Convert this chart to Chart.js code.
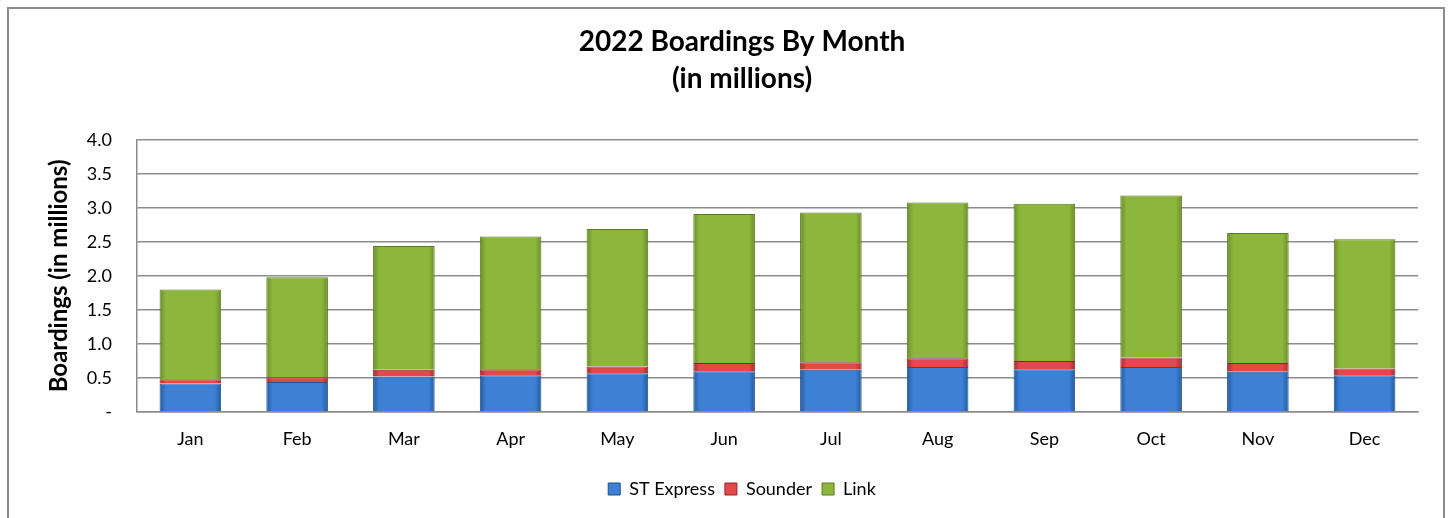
<!DOCTYPE html>
<html>
<head>
<meta charset="utf-8">
<script src="https://cdn.jsdelivr.net/npm/chart.js@4.4.1/dist/chart.umd.min.js"></script>
<style>
  html, body { margin: 0; padding: 0; background: #ffffff; }
  #wrap { position: relative; width: 1450px; height: 518px; overflow: hidden; }
  #frame { position: absolute; left: 7px; top: 7px; width: 1438px; height: 520px; border: 2px solid #8c8c8c; box-sizing: border-box; }
  canvas { position: absolute; left: 0; top: 0; }
</style>
</head>
<body>
<div id="wrap">
  <div id="frame"></div>
  <canvas id="c" width="1450" height="518"></canvas>
</div>
<script>
const categories = ['Jan', 'Feb', 'Mar', 'Apr', 'May', 'Jun', 'Jul', 'Aug', 'Sep', 'Oct', 'Nov', 'Dec'];
const stExpress = [0.42, 0.44, 0.52, 0.54, 0.57, 0.60, 0.62, 0.66, 0.63, 0.66, 0.59, 0.54];
const sounder   = [0.06, 0.07, 0.10, 0.09, 0.10, 0.12, 0.11, 0.13, 0.12, 0.14, 0.13, 0.10];
const link      = [1.32, 1.47, 1.82, 1.95, 2.02, 2.19, 2.20, 2.29, 2.31, 2.38, 1.91, 1.90];
const seriesNames = ['ST Express', 'Sounder', 'Link'];
const yTickLabels = ['-', '0.5', '1.0', '1.5', '2.0', '2.5', '3.0', '3.5', '4.0'];
const titleLines = ['2022 Boardings By Month', '(in millions)'];
const yAxisTitle = 'Boardings (in millions)';

const BAR_PCT = 0.577;
const FONT = 'Lato, "Open Sans", sans-serif';
const styles = [
  { base: '#3d80d4', edge: '#22599e', border: '#1f4f8d' },
  { base: '#e2494b', edge: '#a82a2c', border: '#8e2224' },
  { base: '#8db63d', edge: '#6a8e27', border: '#5c7a20' }
];

function barFill(st) {
  return (ctx) => {
    const chart = ctx.chart;
    const xs = chart.scales && chart.scales.x;
    if (!xs || ctx.type !== 'data' || !isFinite(xs.width)) return st.base;
    const cx = xs.getPixelForValue(ctx.dataIndex);
    const w = (xs.width / categories.length) * BAR_PCT;
    if (!isFinite(cx) || !isFinite(w) || w <= 0) return st.base;
    const g = chart.ctx.createLinearGradient(cx - w / 2, 0, cx + w / 2, 0);
    g.addColorStop(0, st.edge);
    g.addColorStop(0.1, st.base);
    g.addColorStop(0.9, st.base);
    g.addColorStop(1, st.edge);
    return g;
  };
}

const seriesData = [stExpress, sounder, link];
const datasets = seriesNames.map((name, i) => ({
  label: name,
  data: seriesData[i],
  backgroundColor: barFill(styles[i]),
  borderColor: styles[i].border,
  borderWidth: 1,
  barPercentage: BAR_PCT,
  categoryPercentage: 1.0
}));

new Chart(document.getElementById('c'), {
  type: 'bar',
  data: { labels: categories, datasets },
  options: {
    responsive: false,
    animation: false,
    layout: { padding: { left: 66, right: 32, top: 0, bottom: 10 } },
    plugins: {
      title: {
        display: true,
        text: titleLines,
        color: '#000000',
        font: { family: FONT, size: 28, weight: 'bold', lineHeight: 1.3 },
        padding: { top: 24, bottom: 43 }
      },
      legend: {
        position: 'bottom',
        labels: {
          color: '#000000',
          font: { family: FONT, size: 18 },
          boxWidth: 12,
          boxHeight: 12,
          padding: 10,
          generateLabels: (chart) => {
            const items = Chart.defaults.plugins.legend.labels.generateLabels(chart);
            return items.map((it, i) => Object.assign(it, {
              fillStyle: styles[i].base,
              strokeStyle: styles[i].border,
              lineWidth: 1
            }));
          }
        }
      },
      tooltip: { enabled: false }
    },
    scales: {
      x: {
        stacked: true,
        grid: { display: false, drawTicks: false },
        border: { display: true, color: '#8c8c8c', width: 1.5 },
        ticks: { color: '#000000', font: { family: FONT, size: 18 }, padding: 16, maxRotation: 0 },
        afterFit: (s) => { s.height = 58; }
      },
      y: {
        stacked: true,
        min: 0,
        max: 4,
        ticks: {
          stepSize: 0.5,
          color: '#000000',
          font: { family: FONT, size: 18 },
          padding: 25,
          callback: (v, i) => yTickLabels[i]
        },
        grid: { color: '#8c8c8c', lineWidth: 1.5, drawTicks: false },
        border: { display: true, color: '#8c8c8c', width: 1.5 },
        title: {
          display: true,
          text: yAxisTitle,
          color: '#000000',
          font: { family: FONT, size: 24, weight: 'bold' },
          padding: { top: -20.9, bottom: 0 }
        },
        afterFit: (s) => { s.width = 71; }
      }
    }
  }
});
</script>
</body>
</html>
